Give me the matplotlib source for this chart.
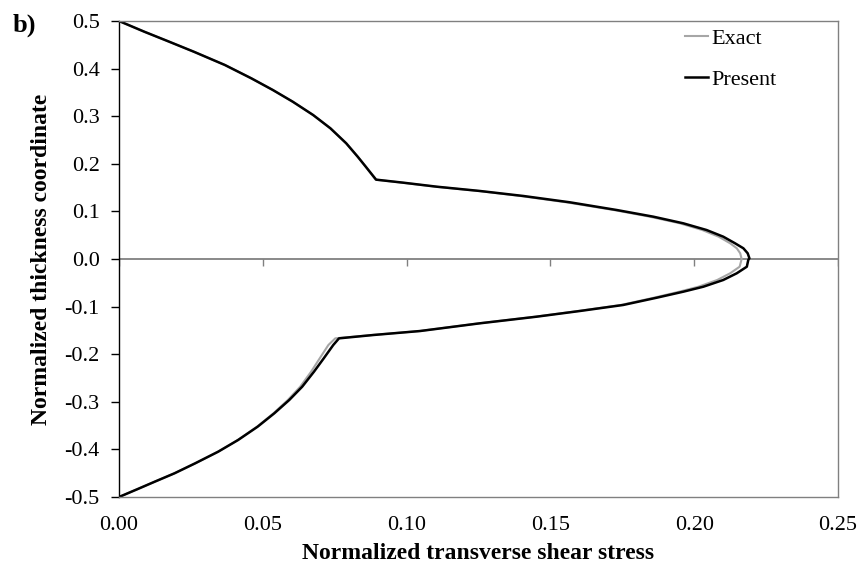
import matplotlib
matplotlib.use("Agg")
import matplotlib.pyplot as plt
import numpy as np

plt.rcParams['font.family'] = ['Liberation Serif', 'DejaVu Serif']

# transverse shear stress (x) through the normalized thickness (z)
present_x = [0.0, 0.0088, 0.0170, 0.0260, 0.0368, 0.0460, 0.0535, 0.0604, 0.0675, 0.0735,
             0.0790, 0.0830, 0.0858, 0.0894,
             0.0989, 0.1105, 0.1255, 0.1406, 0.1568, 0.1731, 0.1858, 0.1962, 0.2043,
             0.2101, 0.2142, 0.2171, 0.2186, 0.2192,
             0.2188, 0.2183, 0.2148, 0.2101, 0.2032, 0.1962, 0.1870, 0.1753, 0.1603,
             0.1452, 0.1255, 0.1047, 0.0884, 0.0765,
             0.0745, 0.0712, 0.0678, 0.0637, 0.0592, 0.0540, 0.0482, 0.0414, 0.0345,
             0.0265, 0.0193, 0.0124, 0.0063, 0.0]
present_z = [0.5, 0.4775, 0.4576, 0.4355, 0.4076, 0.3796, 0.3550, 0.3305, 0.3025, 0.2746,
             0.2431, 0.2149, 0.1939, 0.1667,
             0.1603, 0.1519, 0.1429, 0.1324, 0.1191, 0.1029, 0.0889, 0.0750, 0.0609,
             0.0469, 0.0330, 0.0225, 0.0120, 0.0015,
             -0.0021, -0.0162, -0.0300, -0.0441, -0.0582, -0.0687, -0.0813, -0.0966, -0.1092,
             -0.1212, -0.1351, -0.1513, -0.1597, -0.1667,
             -0.1807, -0.2086, -0.2367, -0.2683, -0.2962, -0.3242, -0.3523, -0.3803, -0.4048,
             -0.4292, -0.4502, -0.4679, -0.4838, -0.5]

exact_x = [0.0, 0.0088, 0.0170, 0.0260, 0.0368, 0.0460, 0.0535, 0.0604, 0.0675, 0.0735,
           0.0790, 0.0830, 0.0858, 0.0892,
           0.0985, 0.1100, 0.1250, 0.1395, 0.1555, 0.1720, 0.1845, 0.1950, 0.2028,
           0.2085, 0.2125, 0.2148, 0.2160, 0.2165,
           0.2158, 0.2125, 0.2080, 0.2015, 0.1948, 0.1860, 0.1745, 0.1597,
           0.1448, 0.1252, 0.1045, 0.0880, 0.0752,
           0.0728, 0.0698, 0.0668, 0.0630, 0.0587, 0.0537, 0.0480, 0.0413, 0.0344,
           0.0265, 0.0193, 0.0124, 0.0063, 0.0]
exact_z = [0.5, 0.4775, 0.4576, 0.4355, 0.4076, 0.3796, 0.3550, 0.3305, 0.3025, 0.2746,
           0.2431, 0.2149, 0.1939, 0.1667,
           0.1603, 0.1519, 0.1429, 0.1324, 0.1191, 0.1029, 0.0889, 0.0750, 0.0609,
           0.0469, 0.0330, 0.0225, 0.0120, 0.0,
           -0.0162, -0.0300, -0.0441, -0.0582, -0.0687, -0.0813, -0.0966, -0.1092,
           -0.1212, -0.1351, -0.1513, -0.1597, -0.1667,
           -0.1807, -0.2086, -0.2367, -0.2683, -0.2962, -0.3242, -0.3523, -0.3803, -0.4048,
           -0.4292, -0.4502, -0.4679, -0.4838, -0.5]

xticks = [0.0, 0.05, 0.10, 0.15, 0.20, 0.25]
yticks = [0.5, 0.4, 0.3, 0.2, 0.1, 0.0, -0.1, -0.2, -0.3, -0.4, -0.5]

fig = plt.figure(figsize=(8.63, 5.70), dpi=100)
ax = fig.add_axes([119/863, 1-497/570, 719/863, 476/570])

ax.plot(exact_x, exact_z, color='#a6a6a6', lw=1.5, label='Exact')
ax.plot(present_x, present_z, color='black', lw=1.8, label='Present')

ax.set_xlim(0, 0.25)
ax.set_ylim(-0.5, 0.5)

# zero line with its own downward tick marks
ax.axhline(0, color='#808080', lw=1.3, zorder=1)
ax.vlines(xticks, 0, -0.015, color='#808080', lw=1.0, zorder=1)

ax.set_xticks(xticks)
ax.set_xticklabels(['%.2f' % v for v in xticks])
ax.set_yticks(yticks)
ax.set_yticklabels(['%.1f' % v for v in yticks])
ax.tick_params(axis='x', length=0, pad=14, labelsize=16)
ax.tick_params(axis='y', length=6, width=1, direction='out', pad=8, labelsize=16, color='black')

for s in ['top', 'right', 'bottom']:
    ax.spines[s].set_color('#808080')
    ax.spines[s].set_linewidth(1.0)
ax.spines['left'].set_color('black')
ax.spines['left'].set_linewidth(1.0)

ax.set_xlabel('Normalized transverse shear stress', fontsize=17, fontweight='bold')
ax.set_ylabel('Normalized thickness coordinate', fontsize=17, fontweight='bold')
ax.xaxis.set_label_coords(0.5, -0.096)
ax.yaxis.set_label_coords(-0.093, 0.5)

ax.legend(loc='upper left', bbox_to_anchor=(685/863, 1-28/570), bbox_transform=fig.transFigure,
          frameon=False, fontsize=16, handlelength=1.05, handletextpad=0.14,
          labelspacing=0.93, borderpad=0, borderaxespad=0)

fig.text(13/863, 1-32/570, 'b)', fontsize=19, fontweight='bold', va='baseline', ha='left')

fig.savefig('out.png', dpi=100)
